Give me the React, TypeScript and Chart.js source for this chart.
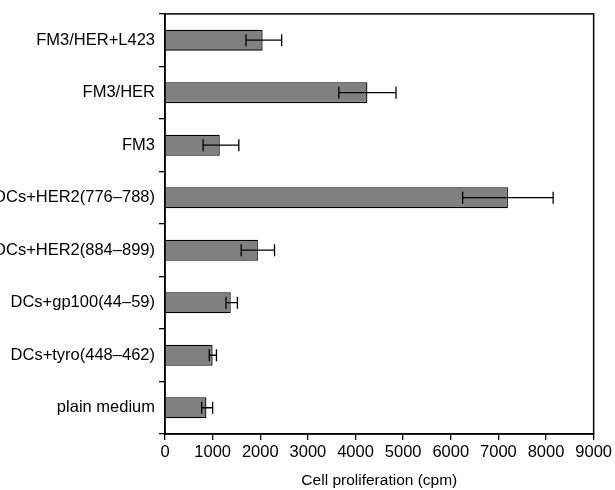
import React, { useEffect, useRef } from "react";
import { Chart, registerables } from "chart.js";
Chart.register(...registerables);

const categories = ["FM3/HER+L423", "FM3/HER", "FM3", "DCs+HER2(776–788)", "DCs+HER2(884–899)", "DCs+gp100(44–59)", "DCs+tyro(448–462)", "plain medium"];
const values = [2050, 4250, 1150, 7200, 1950, 1380, 1000, 870];
const errLow = [1700, 3650, 800, 6250, 1600, 1280, 930, 770];
const errHigh = [2450, 4850, 1550, 8150, 2300, 1520, 1080, 1000];
const xTicks = [0, 1000, 2000, 3000, 4000, 5000, 6000, 7000, 8000, 9000];

const FONT = "'Liberation Sans', Arial, sans-serif";

const extras = {
  id: "extras",
  afterDatasetsDraw(chart: any) {
    const { ctx, chartArea: a, scales } = chart;
    const xs = scales.x, ys = scales.y;
    ctx.save();
    ctx.strokeStyle = "#000";
    ctx.lineWidth = 1.3;
    categories.forEach((_, i) => {
      const y = ys.getPixelForValue(i);
      const x1 = xs.getPixelForValue(errLow[i]);
      const x2 = xs.getPixelForValue(errHigh[i]);
      ctx.beginPath();
      ctx.moveTo(x1, y); ctx.lineTo(x2, y);
      ctx.moveTo(x1, y - 6); ctx.lineTo(x1, y + 6);
      ctx.moveTo(x2, y - 6); ctx.lineTo(x2, y + 6);
      ctx.stroke();
    });
    ctx.lineWidth = 1.5;
    ctx.strokeRect(a.left, a.top, a.right - a.left, a.bottom - a.top);
    ctx.restore();
  },
};

export default function App() {
  const ref = useRef<HTMLCanvasElement>(null);
  useEffect(() => {
    const chart = new Chart(ref.current!, {
      type: "bar",
      data: {
        labels: categories,
        datasets: [{ data: values, backgroundColor: "#808080", borderColor: "#000", borderWidth: 1.3, categoryPercentage: 1, barPercentage: 0.4 }],
      },
      options: {
        indexAxis: "y",
        animation: false,
        responsive: false,
        layout: { padding: { top: 13, right: 18, left: 0, bottom: 0 } },
        plugins: { legend: { display: false }, tooltip: { enabled: false } },
        scales: {
          x: {
            min: 0, max: 9000,
            afterFit: (s: any) => { s.height = 56; },
            afterBuildTicks: (s: any) => { s.ticks = xTicks.map((v) => ({ value: v })); },
            grid: { drawOnChartArea: false, tickLength: 6, color: "#000", lineWidth: 1.3 },
            border: { color: "#000", width: 1.5 },
            ticks: { color: "#000", font: { family: FONT, size: 16.5 }, padding: 3, maxRotation: 0, autoSkip: false, callback: (v: any) => String(v) },
            title: { display: true, text: "Cell proliferation (cpm)", color: "#000", font: { family: FONT, size: 15.5 }, padding: { top: 6, bottom: 0 } },
          },
          y: {
            afterFit: (s: any) => { s.width = 195; },
            grid: { drawOnChartArea: false, offset: true, tickLength: 6, color: "#000", lineWidth: 1.3 },
            border: { color: "#000", width: 1.5 },
            ticks: { color: "#000", font: { family: FONT, size: 16.5 }, padding: 4 },
          },
        },
      },
      plugins: [extras],
    });
    return () => chart.destroy();
  }, []);
  return (
    <div style={{ position: "absolute", left: -30, top: 0, width: 645, height: 490, background: "#fff" }}>
      <canvas ref={ref} width={645} height={490} />
    </div>
  );
}
